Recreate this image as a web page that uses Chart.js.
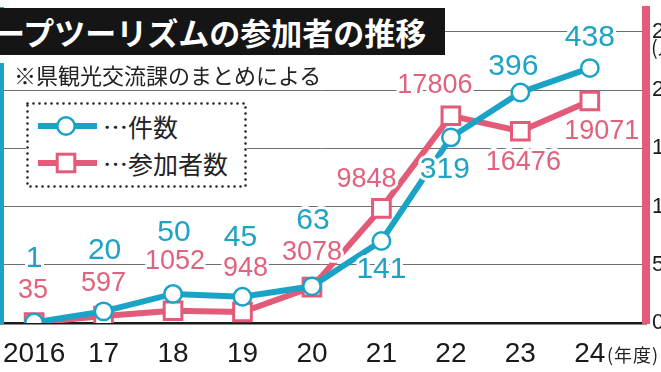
<!DOCTYPE html>
<html>
<head>
<meta charset="utf-8">
<script src="https://cdn.jsdelivr.net/npm/chart.js@4.4.1/dist/chart.umd.min.js"></script>
<style>
  html, body { margin: 0; padding: 0; background: #fff; }
  #wrap { position: relative; width: 661px; height: 372px; overflow: hidden; font-family: "Noto Sans CJK JP", sans-serif; }
  #chart { position: absolute; left: 0; top: 0; }
  .title { position: absolute; left: 0; top: 8px; width: 445px; height: 47px; background: #151515; overflow: hidden; }
  .title span { position: absolute; left: -6px; top: 0; color: #fff; font-weight: bold; font-size: 31px; line-height: 47px; white-space: nowrap; }
  .patch { position: absolute; left: 0; top: 55px; width: 8px; height: 8px; background: #fff; }
  .note { position: absolute; left: 14px; top: 61px; font-size: 22px; line-height: 26px; color: #222; white-space: nowrap; }
  .legend { position: absolute; left: 26px; top: 102px; width: 221px; height: 86px; background: #fff; }
  .legend svg { position: absolute; left: 0; top: 0; }
  .legend .item { position: absolute; left: 77px; font-size: 25px; line-height: 30px; color: #222; white-space: nowrap; }
  .unit-x { position: absolute; left: 607px; top: 342px; font-size: 18px; line-height: 24px; color: #222; letter-spacing: 1px; }
  .unit-y { position: absolute; left: 651px; top: 36px; font-size: 20px; line-height: 22px; color: #222; }
</style>
</head>
<body>
<div id="wrap">
  <canvas id="chart" width="661" height="372"></canvas>
  <div class="title"><span>ープツーリズムの参加者の推移</span></div>
  <div class="patch"></div>
  <div class="note">※県観光交流課のまとめによる</div>
  <div class="legend">
    <svg width="221" height="86">
      <rect x="1.5" y="1.5" width="218" height="83" fill="#fff" stroke="#222" stroke-width="2.6" stroke-dasharray="0 6" stroke-linecap="round"/>
      <line x1="12" y1="24" x2="71" y2="24" stroke="#1ba3c6" stroke-width="6"/>
      <circle cx="40" cy="24" r="8.7" fill="#fff" stroke="#1ba3c6" stroke-width="2.5"/>
      <line x1="12" y1="61" x2="71" y2="61" stroke="#e35b78" stroke-width="6"/>
      <rect x="31.2" y="52.2" width="17.6" height="17.6" fill="#fff" stroke="#e35b78" stroke-width="3"/>
    </svg>
    <div class="item" style="top:9px">…件数</div>
    <div class="item" style="top:46px">…参加者数</div>
  </div>
  <div class="unit-x">(年度)</div>
  <div class="unit-y">(人)</div>
</div>
<script>
// data
const years = ["2016", "17", "18", "19", "20", "21", "22", "23", "24"];
const cases = [1, 20, 50, 45, 63, 141, 319, 396, 438];
const participants = [35, 597, 1052, 948, 3078, 9848, 17806, 16476, 19071];
const caseTicks = [0, 100, 200, 300, 400, 500];
const peopleTicks = [0, 5000, 10000, 15000, 20000, 25000];

// label offsets from each point (dx, dy)
const caseLabelPos = [[0, -64], [1, -61], [1, -61], [-2, -59], [1, -66], [0, 29], [-6, 32], [-7, -26], [0, -30]];
const peopleLabelPos = [[-1, -32], [0, -33], [2, -49], [3, -43], [0, -35], [-15, -29], [-16, -30], [3, 31], [12, 31]];

const cyan = '#1ba3c6';
const pink = '#e35b78';

// the axis bars run a bit above the top grid line
const stretch = 313 / 291;

const pointLabels = {
  id: 'pointLabels',
  afterDatasetsDraw(chart) {
    const ctx = chart.ctx;
    const sets = [
      { idx: 1, values: participants, pos: peopleLabelPos, color: '#e0627d', font: '27px "Liberation Sans", Arial, sans-serif' },
      { idx: 0, values: cases, pos: caseLabelPos, color: '#1fa2c4', font: '30px "Liberation Sans", Arial, sans-serif' }
    ];
    ctx.save();
    ctx.textAlign = 'center';
    ctx.textBaseline = 'middle';
    ctx.lineJoin = 'round';
    sets.forEach(s => {
      const pts = chart.getDatasetMeta(s.idx).data;
      ctx.font = s.font;
      pts.forEach((p, i) => {
        const x = p.x + s.pos[i][0];
        const y = p.y + s.pos[i][1];
        const txt = String(s.values[i]);
        ctx.strokeStyle = '#fff';
        ctx.lineWidth = 6;
        ctx.strokeText(txt, x, y);
        ctx.fillStyle = s.color;
        ctx.fillText(txt, x, y);
      });
    });
    ctx.restore();
  }
};

const ctx = document.getElementById('chart').getContext('2d');
const chart = new Chart(ctx, {
  type: 'line',
  data: {
    datasets: [
      {
        label: '件数',
        data: cases.map((v, i) => ({ x: i, y: v })),
        yAxisID: 'y',
        borderColor: cyan,
        borderWidth: 6,
        pointStyle: 'circle',
        pointRadius: 8.7,
        pointBorderWidth: 2.5,
        pointBackgroundColor: '#fff',
        pointBorderColor: cyan,
        tension: 0
      },
      {
        label: '参加者数',
        data: participants.map((v, i) => ({ x: i, y: v })),
        yAxisID: 'y1',
        borderColor: pink,
        borderWidth: 6,
        pointStyle: 'rect',
        pointRadius: 12.5,
        pointBorderWidth: 3,
        pointBackgroundColor: '#fff',
        pointBorderColor: pink,
        tension: 0
      }
    ]
  },
  options: {
    responsive: false,
    animation: false,
    devicePixelRatio: 1,
    layout: { autoPadding: false, padding: { left: 1, right: 0, top: 10, bottom: 0 } },
    plugins: { legend: { display: false }, tooltip: { enabled: false } },
    scales: {
      x: {
        type: 'linear',
        min: -0.4765,
        max: 8.8087,
        grid: { display: false },
        border: { color: '#1a1a1a', width: 2.5 },
        afterBuildTicks: s => { s.ticks = years.map((_, i) => ({ value: i })); },
        afterFit: s => { s.height = 49; s.paddingLeft = 0; s.paddingRight = 0; },
        ticks: {
          autoSkip: false,
          maxRotation: 0,
          padding: 6,
          color: '#1a1a1a',
          font: { family: '"Liberation Sans", Arial, sans-serif', size: 28 },
          callback: v => years[v]
        }
      },
      y: {
        position: 'left',
        min: 0,
        max: 500 * stretch,
        grid: { display: false },
        border: { color: cyan, width: 6 },
        afterBuildTicks: s => { s.ticks = caseTicks.map(v => ({ value: v })); },
        afterFit: s => { s.width = 0; s.paddingTop = 0; s.paddingBottom = 0; },
        ticks: { display: false }
      },
      y1: {
        position: 'right',
        min: 0,
        max: 25000 * stretch,
        grid: {
          drawTicks: false,
          lineWidth: 1,
          color: c => (c.tick && c.tick.value === 0) ? 'rgba(0,0,0,0)' : '#6f6f6f'
        },
        border: { color: pink, width: 8 },
        afterBuildTicks: s => { s.ticks = peopleTicks.map(v => ({ value: v })); },
        afterFit: s => { s.width = 15; s.paddingTop = 0; s.paddingBottom = 0; },
        ticks: {
          padding: 6,
          color: '#1a1a1a',
          font: { family: '"Liberation Sans", Arial, sans-serif', size: 22 },
          callback: v => String(v)
        }
      }
    }
  },
  plugins: [pointLabels]
});
</script>
</body>
</html>
